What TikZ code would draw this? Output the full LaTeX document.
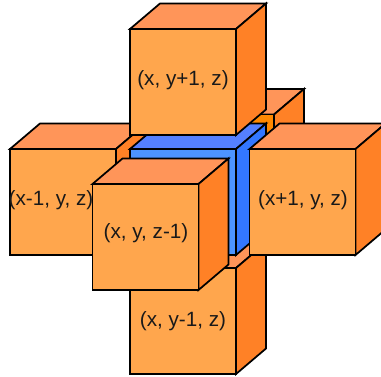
\documentclass[tikz,border=0pt]{standalone}
\usepackage{fontspec}
\setmainfont{Liberation Sans}
\definecolor{cfront}{HTML}{FFA64D}
\definecolor{ctop}{HTML}{FF9559}
\definecolor{cside}{HTML}{FF8126}
\definecolor{cbfront}{HTML}{4D94FF}
\definecolor{cbtop}{HTML}{5580FF}
\definecolor{cbside}{HTML}{3377FF}
\definecolor{cback}{HTML}{FF8800}
\tikzset{
  edge/.style={draw=black,line width=1.3pt,line join=miter},
  lab/.style={font=\fontsize{15.5}{18}\selectfont,text=black!90,inner sep=0pt},
}
% #1 x, #2 y of the front top-left corner; #3,#4,#5 front, top, side colours
\newcommand{\cubeat}[5]{%
  \draw[edge,fill=#4] (#1,#2) -- ++(30,-25.5) -- ++(106,0) -- ++(-30,25.5) -- cycle;
  \draw[edge,fill=#5] (#1+106,#2) -- ++(30,-25.5) -- ++(0,106) -- ++(-30,25.5) -- cycle;
  \draw[edge,fill=#3] (#1,#2) rectangle ++(106,106);
}
\begin{document}
\begin{tikzpicture}[x=0.75pt,y=-0.75pt]
\useasboundingbox (0,0) rectangle (381,376);
\clip (0,0) rectangle (381,376);
\cubeat{168}{114.5}{cback}{ctop}{cside}
\cubeat{10}{149}{cfront}{ctop}{cside}
\cubeat{130}{268}{cfront}{ctop}{cside}
\cubeat{130}{149}{cbfront}{cbtop}{cbside}
\cubeat{130}{29}{cfront}{ctop}{cside}
\cubeat{249.5}{149}{cfront}{ctop}{cside}
\cubeat{92.5}{184}{cfront}{ctop}{cside}
\node[lab] (top) at (183,80) {(x, y+1, z)};
\node[lab] (left) at (51,200) {(x-1, y, z)};
\node[lab] (right) at (303,200) {(x+1, y, z)};
\node[lab] (front) at (146,233) {(x, y, z-1)};
\node[lab] (bottom) at (183,321) {(x, y-1, z)};
\end{tikzpicture}
\end{document}
